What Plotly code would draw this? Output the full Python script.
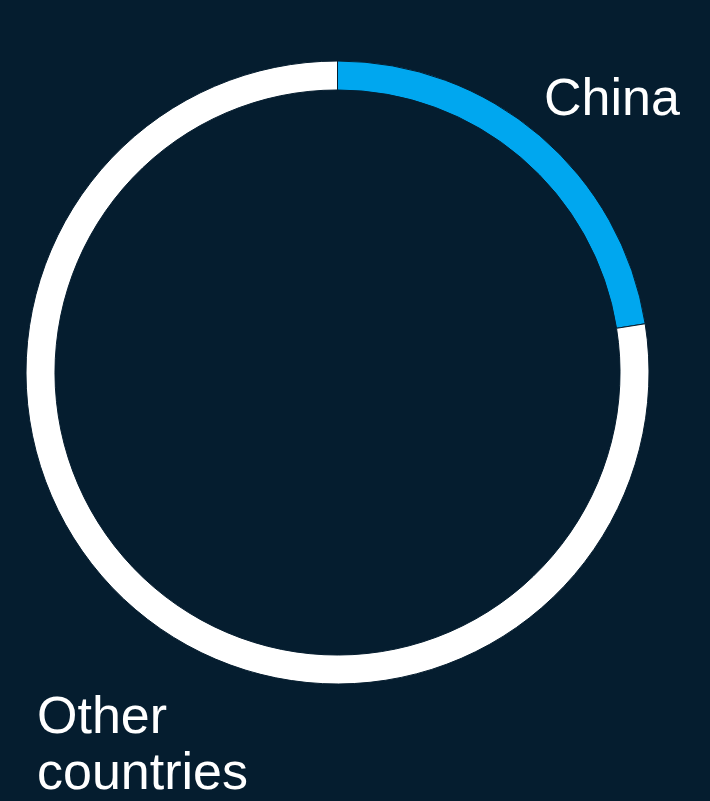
import plotly.graph_objects as go

# Share of total, in percent
labels = ["China", "Other countries"]
values = [22.5, 77.5]
colors = ["#00a7ef", "#ffffff"]

BG = "#051d2f"
W, H = 710, 801

fig = go.Figure(
    go.Pie(
        labels=labels,
        values=values,
        sort=False,
        direction="clockwise",
        rotation=0,
        hole=0.907,
        marker=dict(colors=colors, line=dict(color=BG, width=1)),
        textinfo="none",
        hoverinfo="label+percent",
        domain=dict(x=[26 / W, 649 / W], y=[(H - 684) / H, (H - 61) / H]),
        showlegend=False,
    )
)

label_font = dict(family="Liberation Sans, Arial, sans-serif", size=52, color="#ffffff")

fig.add_annotation(
    text="China", x=542 / W, y=(H - 97) / H, xref="paper", yref="paper",
    xanchor="left", yanchor="middle", showarrow=False, font=label_font,
)
fig.add_annotation(
    text="Other", x=35 / W, y=(H - 715) / H, xref="paper", yref="paper",
    xanchor="left", yanchor="middle", showarrow=False, font=label_font,
)
fig.add_annotation(
    text="countries", x=35 / W, y=(H - 771) / H, xref="paper", yref="paper",
    xanchor="left", yanchor="middle", showarrow=False, font=label_font,
)

fig.update_layout(
    width=W,
    height=H,
    margin=dict(l=0, r=0, t=0, b=0),
    paper_bgcolor=BG,
    plot_bgcolor=BG,
)

fig.write_html("out.html")
